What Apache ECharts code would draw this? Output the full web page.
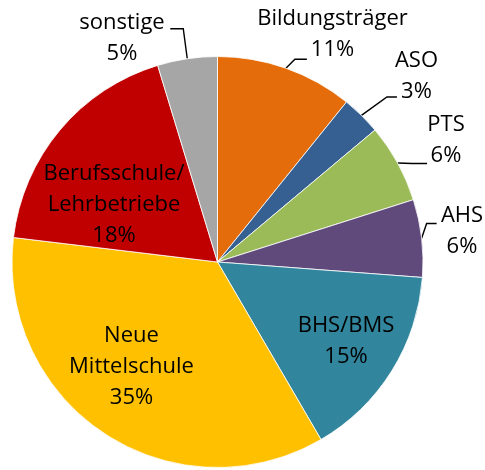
<!DOCTYPE html>
<html><head><meta charset="utf-8">
<script src="https://cdn.jsdelivr.net/npm/echarts@6/dist/echarts.min.js"></script>
<style>html,body{margin:0;padding:0;background:#fff}#c{width:485px;height:470px}</style>
</head><body><div id="c"></div>
<script>
// data
var categories = ['Bildungsträger','ASO','PTS','AHS','BHS/BMS','Neue\nMittelschule','Berufsschule/\nLehrbetriebe','sonstige'];
var values = [10.8, 3.1, 6.2, 6.1, 15.4, 35.3, 18.4, 4.7];

// styles / placement (kept separate from data)
var colors = ['#E46C0A','#376092','#9BBB59','#604A7B','#31859C','#FFC000','#C00000','#A6A6A6'];
var CX = 217.5, CY = 262, R = 205.5;
// label block centres
var labelPos = [[332.5,34.5],[416.5,76],[446,140.5],[462,231.5],[346,341],[131.5,366.5],[114,205],[122,38]];
// leader line: [elbow dx, elbow dy, horizontal length] relative to arc point at mid-angle; null = no line
var leader = [[9,-9,12],[25.5,-18.4,10],[14.5,0.5,15],[5,-14.7,10],null,null,null,[-4,-30,-13]];

var total = values.reduce(function(a,b){return a+b;},0);
var midAngles = [];
(function(){var acc=0; values.forEach(function(v){midAngles.push((acc+v/2)/total*2*Math.PI); acc+=v;});})();

var chart = echarts.init(document.getElementById('c'), null, {renderer:'canvas'});
var data = categories.map(function(c,i){
  var item = {name:c, value:values[i], itemStyle:{color:colors[i]}};
  if (!leader[i]) {
    item.label = {position:'inside'};
    item.labelLine = {show:false};
  }
  return item;
});
chart.setOption({
  animation:false,
  backgroundColor:'#fff',
  series:[{
    type:'pie',
    center:[CX,CY],
    radius:[0,R],
    startAngle:90,
    clockwise:true,
    avoidLabelOverlap:false,
    itemStyle:{borderColor:'#fff',borderWidth:0.8},
    label:{
      show:true,
      position:'outside',
      fontFamily:'Open Sans',
      fontSize:22,
      lineHeight:31,
      color:'#000',
      align:'center',
      formatter:function(p){return p.name+'\n'+Math.round(p.value)+'%';}
    },
    labelLine:{show:true,length:12,length2:12,lineStyle:{color:'#000',width:1.4}},
    labelLayout:function(p){
      var i = p.dataIndex;
      var out = {x:labelPos[i][0], y:labelPos[i][1], align:'center', verticalAlign:'middle', hideOverlap:false};
      var L = leader[i];
      if (L) {
        var a = midAngles[i];
        var sx = CX + R*Math.sin(a), sy = CY - R*Math.cos(a);
        var ex = sx + L[0], ey = sy + L[1];
        out.labelLinePoints = [[sx,sy],[ex,ey],[ex+L[2],ey]];
      }
      return out;
    },
    data:data
  }]
});
</script></body></html>
